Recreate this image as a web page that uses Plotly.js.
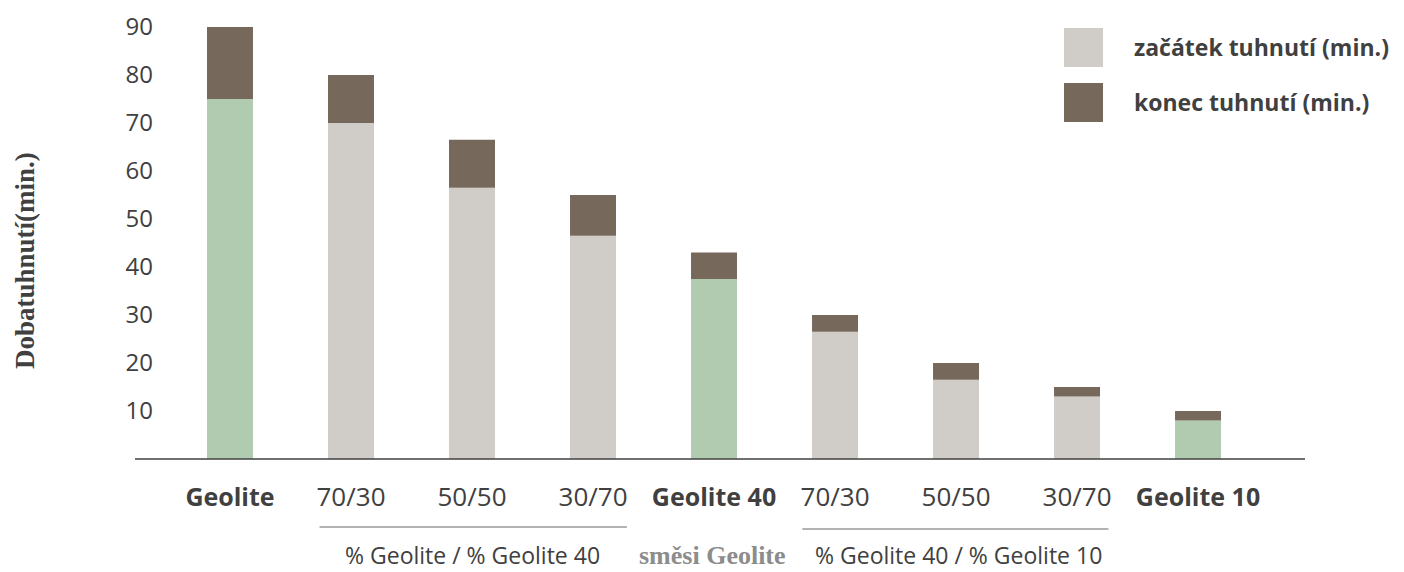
<!DOCTYPE html>
<html>
<head>
<meta charset="utf-8">
<script src="https://cdn.plot.ly/plotly-3.0.1.min.js"></script>
<style>html,body{margin:0;padding:0;background:#fff;}#chart{width:1404px;height:572px;}</style>
</head>
<body>
<div id="chart"></div>
<script>
// ---- data ----
const categories = ["Geolite", "70/30 a", "50/50 a", "30/70 a", "Geolite 40", "70/30 b", "50/50 b", "30/70 b", "Geolite 10"];
const tickLabels = ["Geolite", "70/30", "50/50", "30/70", "Geolite 40", "70/30", "50/50", "30/70", "Geolite 10"];
const isPure = [true, false, false, false, true, false, false, false, true];
const zacatek = [75, 70, 56.5, 46.5, 37.5, 26.5, 16.5, 13, 8];     // začátek tuhnutí (min.)
const konec = [90, 80, 66.5, 55, 43, 30, 20, 15, 10];              // konec tuhnutí (min.)
const yTicks = [10, 20, 30, 40, 50, 60, 70, 80, 90];
const groupLabels = ["% Geolite / % Geolite 40", "směsi Geolite", "% Geolite 40 / % Geolite 10"];
const legendLabels = ["začátek tuhnutí (min.)", "konec tuhnutí (min.)"];

// ---- style ----
const GREEN = "#B0CBB0", LIGHT = "#D0CCC8", DARK = "#77685C", TXT = "#404040";
const W = 1404, H = 572, ML = 154, MR = 99, MT = 27, MB = 113;
const PW = W - ML - MR, PH = H - MT - MB;
const px = v => (v - ML) / PW;          // page x -> paper
const py = v => (H - MB - v) / PH;      // page y -> paper

const idx = categories.map((_, i) => i);
const tickText = tickLabels.map((t, i) => isPure[i]
  ? '<span style="font-size:25px"><b>' + t + '</b></span>'
  : t);

const traces = [
  {
    type: "bar", name: legendLabels[0], x: idx, y: zacatek,
    marker: { color: isPure.map(p => p ? GREEN : LIGHT) },
    width: 0.38, hoverinfo: "skip", showlegend: false
  },
  {
    type: "bar", name: legendLabels[1], x: idx,
    base: zacatek, y: konec.map((v, i) => v - zacatek[i]),
    marker: { color: DARK }, width: 0.38, hoverinfo: "skip", showlegend: false
  }
];

const layout = {
  width: W, height: H,
  margin: { l: ML, r: MR, t: MT, b: MB, pad: 0 },
  paper_bgcolor: "#fff", plot_bgcolor: "#fff",
  barmode: "overlay",
  showlegend: false,
  font: { family: "Open Sans, sans-serif", color: TXT },
  xaxis: {
    range: [-0.628, 8.884], tickvals: idx, ticktext: tickText,
    tickfont: { family: "Open Sans", size: 26, color: TXT },
    showgrid: false, zeroline: false, showline: false, ticks: "",
    ticklabelstandoff: 20, fixedrange: true
  },
  yaxis: {
    range: [0, 90], tickvals: yTicks, ticktext: yTicks.map(String),
    tickfont: { family: "Open Sans", size: 24, color: TXT },
    showgrid: false, zeroline: false, showline: false, ticks: "", fixedrange: true
  },
  shapes: [
    // baseline
    { type: "line", xref: "paper", yref: "paper", x0: px(135), x1: 1, y0: 0, y1: 0,
      line: { color: "#404040", width: 1.5 }, layer: "above" },
    // group underlines
    { type: "line", xref: "x", yref: "paper", x0: 0.74, x1: 3.28, y0: py(527), y1: py(527),
      line: { color: "#999999", width: 1.5 } },
    { type: "line", xref: "x", yref: "paper", x0: 4.73, x1: 7.26, y0: py(529), y1: py(529),
      line: { color: "#999999", width: 1.5 } },
    // legend swatches
    { type: "rect", xref: "paper", yref: "paper", x0: px(1064), x1: px(1103), y0: py(67), y1: py(28),
      fillcolor: LIGHT, line: { width: 0 } },
    { type: "rect", xref: "paper", yref: "paper", x0: px(1064), x1: px(1103), y0: py(122), y1: py(83),
      fillcolor: DARK, line: { width: 0 } }
  ],
  annotations: [
    { text: "<b>Dobatuhnutí(min.)</b>", xref: "paper", yref: "paper", x: px(25), y: py(261),
      xanchor: "center", yanchor: "middle", textangle: -90, showarrow: false,
      font: { family: "Liberation Serif, Times New Roman, serif", size: 27, color: TXT } },
    { text: groupLabels[0], xref: "x", yref: "paper", x: 2, y: py(555), xanchor: "center", yanchor: "middle",
      showarrow: false, font: { family: "Open Sans", size: 23, color: TXT } },
    { text: "<b>" + groupLabels[1] + "</b>", xref: "paper", yref: "paper", x: px(712), y: py(555),
      xanchor: "center", yanchor: "middle", showarrow: false,
      font: { family: "Liberation Serif, Times New Roman, serif", size: 26, color: "#8C8C8C" } },
    { text: groupLabels[2], xref: "x", yref: "paper", x: 6.02, y: py(555), xanchor: "center", yanchor: "middle",
      showarrow: false, font: { family: "Open Sans", size: 23, color: TXT } },
    { text: "<b>" + legendLabels[0] + "</b>", xref: "paper", yref: "paper", x: px(1132), y: py(47),
      xanchor: "left", yanchor: "middle", showarrow: false,
      font: { family: "Open Sans", size: 23, color: TXT } },
    { text: "<b>" + legendLabels[1] + "</b>", xref: "paper", yref: "paper", x: px(1132), y: py(102),
      xanchor: "left", yanchor: "middle", showarrow: false,
      font: { family: "Open Sans", size: 23, color: TXT } }
  ]
};

Plotly.newPlot("chart", traces, layout, { staticPlot: true, displayModeBar: false });
</script>
</body>
</html>
